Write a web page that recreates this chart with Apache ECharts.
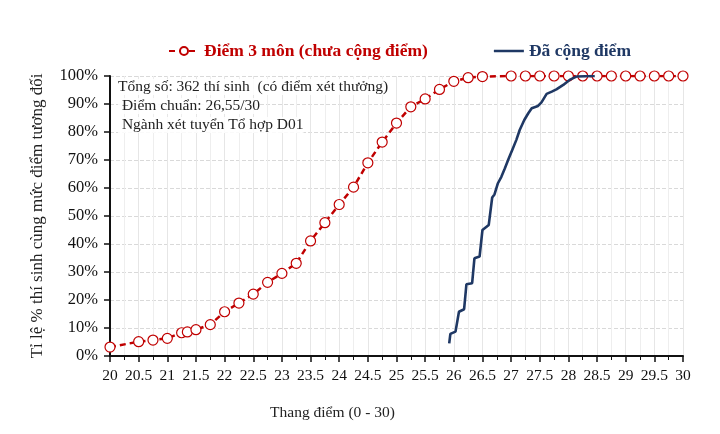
<!DOCTYPE html>
<html>
<head>
<meta charset="utf-8">
<script src="https://cdn.jsdelivr.net/npm/echarts@6/dist/echarts.min.js"></script>
<style>
  html, body { margin: 0; padding: 0; background: #fff; }
  #chart { width: 720px; height: 434px; }
</style>
</head>
<body>
<div id="chart"></div>
<script>
// Điểm 3 môn (chưa cộng điểm)
var redX = [20, 20.5, 20.75, 21, 21.25, 21.35, 21.5, 21.75, 22, 22.25, 22.5, 22.75, 23, 23.25, 23.5, 23.75,
            24, 24.25, 24.5, 24.75, 25, 25.25, 25.5, 25.75, 26, 26.25, 26.5,
            27, 27.25, 27.5, 27.75, 28, 28.25, 28.5, 28.75, 29, 29.25, 29.5, 29.75, 30];
var redY = [3.2, 5.1, 5.7, 6.3, 8.3, 8.6, 9.4, 11.2, 15.8, 18.9, 22.1, 26.3, 29.5, 33.1, 41.1, 47.6,
            54.1, 60.3, 69.0, 76.4, 83.2, 89.0, 91.8, 95.2, 98.1, 99.4, 99.8,
            100, 100, 100, 100, 100, 100, 100, 100, 100, 100, 100, 100, 100];

// Đã cộng điểm
var blueX = [25.92, 25.94, 26.03, 26.09, 26.18, 26.22, 26.32, 26.36, 26.45, 26.5, 26.61, 26.67, 26.71,
             26.77, 26.83, 26.89, 26.96, 27.02, 27.09, 27.15, 27.23, 27.3, 27.36, 27.47, 27.53, 27.62,
             27.71, 27.79, 27.91, 28.02, 28.14, 28.46];
var blueY = [4.5, 7.9, 8.7, 15.8, 16.7, 25.6, 26, 34.9, 35.5, 45, 46.8, 56.6, 57.7,
             61.7, 64, 67, 70.6, 73.6, 77.1, 80.7, 84.3, 86.7, 88.5, 89.3, 90.6, 93.6,
             94.4, 95.2, 96.8, 98.6, 99.8, 100];

var noteLines = [
    'Tổng số: 362 thí sinh  (có điểm xét thưởng)',
    ' Điểm chuẩn: 26,55/30',
    ' Ngành xét tuyển Tổ hợp D01'
];

var serif = 'Liberation Serif';

function pairs(xs, ys) {
    return xs.map(function (x, i) { return [x, ys[i]]; });
}

var chart = echarts.init(document.getElementById('chart'));

var option = {
    backgroundColor: '#fff',
    textStyle: { fontFamily: serif },
    legend: {
        top: 37,
        left: 163,
        itemWidth: 30,
        itemHeight: 10,
        itemGap: 66,
        textStyle: { fontFamily: serif, fontSize: 17.5, fontWeight: 'bold' },
        data: [
            { name: 'Điểm 3 môn (chưa cộng điểm)', textStyle: { color: '#c00000' } },
            {
                name: 'Đã cộng điểm',
                icon: 'path://M0,9 L30,9 L30,11.5 L0,11.5 Z',
                textStyle: { color: '#1f3864' }
            }
        ]
    },
    grid: { left: 110, right: 37, top: 76, bottom: 78 },
    xAxis: {
        type: 'value',
        min: 20,
        max: 30,
        interval: 0.5,
        name: 'Thang điểm (0 - 30)',
        nameLocation: 'middle',
        nameGap: 49,
        nameTextStyle: { fontFamily: serif, fontSize: 15.5, color: '#222', padding: [0, 128, 0, 0] },
        axisLine: { lineStyle: { color: '#111', width: 2 } },
        axisTick: { length: 6, lineStyle: { color: '#111', width: 1.5 } },
        minorTick: { show: true, splitNumber: 2, length: 4, lineStyle: { color: '#111', width: 1 } },
        axisLabel: { fontFamily: serif, fontSize: 15.5, color: '#111', margin: 12 },
        splitLine: { show: true, lineStyle: { color: '#e6e6e6', width: 1 } },
        minorSplitLine: { show: true, lineStyle: { color: '#eeeeee', width: 1 } }
    },
    yAxis: {
        type: 'value',
        min: 0,
        max: 100,
        interval: 10,
        name: 'Tỉ lệ % thí sinh cùng mức điểm tương đối',
        nameLocation: 'middle',
        nameGap: 64,
        nameTextStyle: { fontFamily: serif, fontSize: 17, color: '#222' },
        axisLine: { show: true, lineStyle: { color: '#111', width: 2 } },
        axisTick: { show: true, length: 6, lineStyle: { color: '#111', width: 1.5 } },
        axisLabel: { fontFamily: serif, fontSize: 16.5, color: '#111', margin: 12, formatter: '{value}%' },
        splitLine: { show: true, lineStyle: { color: '#d9d9d9', type: 'dashed', width: 1 } }
    },
    graphic: noteLines.map(function (t, i) {
        return {
            type: 'text',
            left: 118,
            top: 79 + i * 19,
            z: 100,
            style: {
                text: t,
                fill: '#222',
                font: '15.5px "Liberation Serif"',
                backgroundColor: 'rgba(255,255,255,0.85)'
            }
        };
    }),
    series: [
        {
            name: 'Điểm 3 môn (chưa cộng điểm)',
            type: 'line',
            data: pairs(redX, redY),
            symbol: 'circle',
            symbolSize: 10,
            itemStyle: { color: '#fff', borderColor: '#c00000', borderWidth: 1.2 },
            lineStyle: { color: '#c00000', width: 2.5, type: [6, 4] },
            z: 3
        },
        {
            name: 'Đã cộng điểm',
            type: 'line',
            data: pairs(blueX, blueY),
            symbol: 'none',
            itemStyle: { color: '#1f3864' },
            lineStyle: { color: '#1f3864', width: 2.6 },
            z: 4
        }
    ]
};

chart.setOption(option);
</script>
</body>
</html>
